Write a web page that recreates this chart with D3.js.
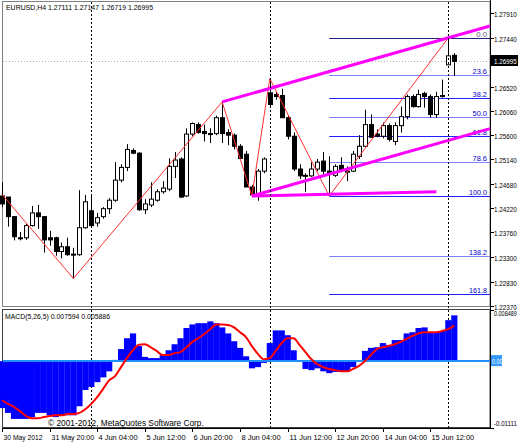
<!DOCTYPE html>
<html>
<head>
<meta charset="utf-8">
<script src="https://cdn.jsdelivr.net/npm/d3@7"></script>
<style>
  body { margin: 0; background: #fff; }
  text { font-family: "Liberation Sans", sans-serif; }
</style>
</head>
<body>
<svg id="chart"></svg>
<script>
// EURUSD H4 candles: [open, high, low, close]
const candles = [
  [1.2445,1.2471,1.2424,1.2430],[1.2443,1.2443,1.2387,1.2406],[1.2406,1.2406,1.2361,1.2368],
  [1.2366,1.2377,1.2361,1.2365],[1.2366,1.2392,1.2362,1.2389],[1.2389,1.2426,1.2387,1.2413],
  [1.2413,1.2428,1.2383,1.2406],[1.2406,1.2406,1.2338,1.2362],[1.2366,1.2379,1.2351,1.2362],
  [1.2366,1.2368,1.2332,1.2340],[1.2340,1.2357,1.2327,1.2349],[1.2349,1.2366,1.2332,1.2334],
  [1.2334,1.2347,1.2289,1.2335],[1.2334,1.2456,1.2332,1.2385],[1.2385,1.2447,1.2383,1.2434],
  [1.2417,1.2445,1.2385,1.2389],[1.2394,1.2413,1.2387,1.2404],[1.2406,1.2424,1.2402,1.2421],
  [1.2421,1.2441,1.2411,1.2437],[1.2437,1.2509,1.2434,1.2475],[1.2475,1.2505,1.2471,1.2499],
  [1.2499,1.2543,1.2492,1.2533],[1.2531,1.2535,1.2524,1.2526],[1.2526,1.2528,1.2417,1.2419],
  [1.2419,1.2439,1.2411,1.2430],[1.2428,1.2471,1.2424,1.2439],[1.2437,1.2458,1.2434,1.2453],
  [1.2453,1.2473,1.2449,1.2460],[1.2458,1.2516,1.2454,1.2501],[1.2501,1.2528,1.2479,1.2513],
  [1.2515,1.2518,1.2441,1.2443],[1.2445,1.2573,1.2443,1.2562],[1.2562,1.2584,1.2558,1.2582],
  [1.2580,1.2584,1.2563,1.2565],[1.2567,1.2580,1.2548,1.2563],[1.2563,1.2573,1.2545,1.2562],
  [1.2563,1.2597,1.2560,1.2593],[1.2593,1.2623,1.2545,1.2563],[1.2565,1.2571,1.2541,1.2560],
  [1.2560,1.2563,1.2533,1.2539],[1.2539,1.2543,1.2515,1.2516],[1.2524,1.2530,1.2462,1.2462],
  [1.2462,1.2466,1.2445,1.2447],[1.2447,1.2496,1.2436,1.2492],[1.2492,1.2518,1.2488,1.2515],
  [1.2640,1.2667,1.2614,1.2618],[1.2637,1.2642,1.2627,1.2633],[1.2635,1.2648,1.2593,1.2593],
  [1.2593,1.2597,1.2552,1.2558],[1.2558,1.2565,1.2492,1.2496],[1.2496,1.2505,1.2477,1.2483],
  [1.2483,1.2488,1.2453,1.2484],[1.2483,1.2509,1.2481,1.2496],[1.2496,1.2515,1.2492,1.2509],
  [1.2511,1.2528,1.2486,1.2492],[1.2492,1.2520,1.2445,1.2486],[1.2484,1.2505,1.2481,1.2501],
  [1.2503,1.2518,1.2490,1.2494],[1.2490,1.2501,1.2473,1.2492],[1.2492,1.2530,1.2490,1.2524],
  [1.2520,1.2560,1.2515,1.2539],[1.2539,1.2608,1.2537,1.2580],[1.2580,1.2599,1.2556,1.2556],
  [1.2562,1.2571,1.2556,1.2558],[1.2558,1.2584,1.2554,1.2578],[1.2578,1.2582,1.2548,1.2552],
  [1.2548,1.2584,1.2541,1.2578],[1.2578,1.2614,1.2565,1.2595],[1.2595,1.2637,1.2590,1.2633],
  [1.2633,1.2637,1.2612,1.2614],[1.2614,1.2646,1.2612,1.2637],[1.2639,1.2642,1.2612,1.2633],
  [1.2633,1.2637,1.2593,1.2599],[1.2599,1.2642,1.2593,1.2633],[1.2633,1.2665,1.2631,1.2635],
  [1.2693,1.2744,1.2693,1.2710],[1.2711,1.2715,1.2672,1.26995]
];

const macdHist = [
  -0.0078,-0.0086,-0.0096,-0.0096,-0.0096,-0.0093,-0.0086,-0.0086,-0.0090,-0.0093,
  -0.0091,-0.0090,-0.0090,-0.0075,-0.0048,-0.0043,-0.0035,-0.0027,-0.0017,0.0002,
  0.0020,0.0038,0.0046,0.0025,0.0007,0.0005,0.0005,0.0010,0.0018,0.0028,
  0.0038,0.0055,0.0061,0.0063,0.0063,0.0066,0.0063,0.0056,0.0046,0.0033,
  0.0022,0.0008,-0.0012,-0.0010,-0.0003,0.0030,0.0051,0.0051,0.0043,0.0018,
  0.0001,-0.0013,-0.0015,-0.0012,-0.0017,-0.0020,-0.0018,-0.0018,-0.0017,-0.0010,
  0.0001,0.0017,0.0022,0.0023,0.0030,0.0027,0.0035,0.0035,0.0046,0.0048,
  0.0055,0.0056,0.0048,0.0048,0.0050,0.0068,0.0076
];
const macdSignal = [
  -0.0065,-0.0071,-0.0076,-0.0083,-0.0091,-0.0095,-0.0095,-0.0093,-0.0091,-0.0090,
  -0.0090,-0.0088,-0.0088,-0.0086,-0.0080,-0.0071,-0.0060,-0.0046,-0.0032,-0.0025,
  -0.0010,0.0005,0.0018,0.0027,0.0028,0.0023,0.0017,0.0010,0.0010,0.0013,
  0.0015,0.0023,0.0032,0.0038,0.0045,0.0053,0.0061,0.0061,0.0060,0.0056,
  0.0048,0.0040,0.0025,0.0012,0.0003,0.0005,0.0017,0.0030,0.0038,0.0038,
  0.0027,0.0015,0.0003,-0.0005,-0.0010,-0.0013,-0.0015,-0.0017,-0.0017,-0.0013,
  -0.0008,0.0000,0.0010,0.0020,0.0023,0.0025,0.0028,0.0032,0.0037,0.0042,
  0.0046,0.0048,0.0048,0.0048,0.0050,0.0053,0.0059
];

// zigzag pivots: [bar index, price]
const zigzag = [[0,1.2448],[12,1.2289],[37,1.2623],[42,1.2445],[45,1.2667],[55,1.2445],[75,1.2744]];
const fibLevels = [0, 23.6, 38.2, 50.0, 61.8, 78.6, 100.0, 138.2, 161.8];
const fibHigh = 1.2744, fibLow = 1.2445, fibStart = 55;
const priceTicks = [1.27910,1.27440,1.26520,1.26060,1.25600,1.25140,1.24680,1.24220,1.23760,1.23300,1.22830,1.22370];
const lastPrice = 1.26995;
const timeLabels = ["30 May 2012","31 May 20:00","4 Jun 04:00","5 Jun 12:00","6 Jun 20:00",
  "8 Jun 04:00","11 Jun 12:00","12 Jun 20:00","14 Jun 04:00","15 Jun 12:00"];
const separators = [15, 45, 75];

const width = 518, height = 444;
const axisX = 490;
const svg = d3.select("#chart").attr("width", width).attr("height", height);

const x = d3.scaleLinear().domain([0, 76]).range([2, 454.2]);
const y = d3.scaleLinear().domain([1.2237, 1.2791]).range([306, 13]);
const ym = d3.scaleLinear().domain([-0.01111, 0.008489]).range([428, 310]);

// narrow text helper (terminal font is narrower than the installed ones)
function label(g, tx, ty, str, opts = {}) {
  const t = g.append("text").attr("x", tx).attr("y", ty)
    .attr("font-size", opts.size || 8).attr("fill", opts.fill || "#000")
    .attr("text-anchor", opts.anchor || "start").text(str);
  t.attr("textLength", str.length * (opts.cw || 3.5)).attr("lengthAdjust", "spacingAndGlyphs");
  return t;
}

// pane frames
svg.append("rect").attr("x", 2.5).attr("y", 1.5).attr("width", axisX - 2.5).attr("height", 305)
  .attr("fill", "none").attr("stroke", "#808080");
svg.append("rect").attr("x", 2.5).attr("y", 309.5).attr("width", axisX - 2.5).attr("height", 118)
  .attr("fill", "none").attr("stroke", "#404040");
svg.append("line").attr("x1", axisX + 0.5).attr("x2", axisX + 0.5).attr("y1", 0).attr("y2", 429)
  .attr("stroke", "#000");
svg.append("line").attr("x1", 2).attr("x2", axisX).attr("y1", 428.5).attr("y2", 428.5).attr("stroke", "#000");

const main = svg.append("g");

// current price line
main.append("line").attr("x1", 3).attr("x2", axisX).attr("y1", Math.round(y(lastPrice)) + 0.5)
  .attr("y2", Math.round(y(lastPrice)) + 0.5).attr("stroke", "#b0b0b0").attr("stroke-dasharray", "1,2");

// period separators
separators.forEach(i => {
  svg.append("line").attr("x1", Math.round(x(i)) + 0.5).attr("x2", Math.round(x(i)) + 0.5)
    .attr("y1", 2).attr("y2", 428).attr("stroke", "#000").attr("stroke-dasharray", "2,2");
});

// fibonacci levels
fibLevels.forEach((lv, k) => {
  const p = fibHigh - (fibHigh - fibLow) * lv / 100;
  const yy = Math.round(y(p)) + 0.5;
  main.append("line").attr("x1", x(fibStart)).attr("x2", axisX).attr("y1", yy).attr("y2", yy)
    .attr("stroke", lv === 0 ? "#202080" : (k % 2 ? "#7f7fff" : "#2020ff"));
  label(main, 487, yy - 2, lv.toFixed(1), { anchor: "end", fill: lv === 0 ? "#555577" : "#0000c0", cw: 3.6 });
});

// candles
const bw = 4;
candles.forEach((c, i) => {
  const [o, h, l, cl] = c;
  const cx = Math.round(x(i)) + 0.5;
  main.append("line").attr("x1", cx).attr("x2", cx).attr("y1", y(h)).attr("y2", y(l)).attr("stroke", "#000");
  const top = y(Math.max(o, cl)), bot = y(Math.min(o, cl));
  main.append("rect").attr("x", cx - bw / 2).attr("y", top).attr("width", bw)
    .attr("height", Math.max(1, bot - top))
    .attr("fill", cl >= o ? "#fff" : "#000").attr("stroke", "#000").attr("stroke-width", 1);
});

// zigzag
main.append("path").datum(zigzag)
  .attr("d", d3.line().x(d => x(d[0])).y(d => y(d[1])))
  .attr("fill", "none").attr("stroke", "#ff3030").attr("stroke-width", 1);

// channels (magenta)
const slope = (zigzag[6][1] - zigzag[2][1]) / (zigzag[6][0] - zigzag[2][0]);
const endBar = x.invert(axisX);
const chan = [
  [[37, 1.2623], [endBar, 1.2623 + slope * (endBar - 37)]],
  [[42, 1.2445], [endBar, 1.2445 + slope * (endBar - 42)]],
  [[42, 1.2445], [73, 1.2453]]
];
chan.forEach(seg => {
  main.append("path").datum(seg)
    .attr("d", d3.line().x(d => x(d[0])).y(d => y(d[1])))
    .attr("stroke", "#ff00ff").attr("stroke-width", 3).attr("fill", "none");
});

// price axis
priceTicks.forEach(p => {
  const yy = Math.round(y(p)) + 0.5;
  svg.append("line").attr("x1", axisX).attr("x2", axisX + 4).attr("y1", yy).attr("y2", yy).attr("stroke", "#000");
  label(svg, 494, yy + 3, p.toFixed(5), { cw: 3.25 });
});
const ly = Math.round(y(lastPrice));
svg.append("rect").attr("x", 491).attr("y", ly - 6).attr("width", 27).attr("height", 11).attr("fill", "#000");
label(svg, 494, ly + 3, lastPrice.toFixed(5), { fill: "#fff", cw: 3.25 });

label(svg, 6, 10, "EURUSD,H4  1.27111 1.27147 1.26719 1.26995", { cw: 3.5 });

// MACD pane
const m = svg.append("g");
macdHist.forEach((v, i) => {
  const y0 = ym(0), y1 = ym(v);
  m.append("rect").attr("x", x(i) - 3).attr("width", 6.2)
    .attr("y", Math.min(y0, y1)).attr("height", Math.abs(y1 - y0)).attr("fill", "#0000ff");
});
m.append("line").attr("x1", 3).attr("x2", axisX).attr("y1", ym(0)).attr("y2", ym(0))
  .attr("stroke", "#1e90ff").attr("stroke-width", 2);
m.append("path").datum(macdSignal)
  .attr("d", d3.line().curve(d3.curveMonotoneX).x((d, i) => x(i)).y(d => ym(d)))
  .attr("fill", "none").attr("stroke", "#ff0000").attr("stroke-width", 2);

label(svg, 5, 319, "MACD(5,26,5) 0.007594 0.005886", { cw: 3.5 });
label(svg, 48, 426, "© 2001-2012, MetaQuotes Software Corp.", { size: 9, cw: 4.1 });

[[0.008489, "0.008489", 316], [-0.01111, "-0.01111", 426]].forEach(([v, t, yy]) => {
  svg.append("line").attr("x1", axisX).attr("x2", axisX + 4).attr("y1", Math.round(ym(v)) + 0.5)
    .attr("y2", Math.round(ym(v)) + 0.5).attr("stroke", "#000");
  label(svg, 494, yy, t, { cw: 2.85, size: 7.5 });
});
svg.append("rect").attr("x", 491).attr("y", ym(0) - 6).attr("width", 11).attr("height", 11).attr("fill", "#3399ff");
label(svg, 492, ym(0) + 3, "0.00", { fill: "#fff", cw: 2.6 });

// time axis
timeLabels.forEach((t, k) => {
  const xx = Math.round(x(k * 8)) + 0.5;
  svg.append("line").attr("x1", xx).attr("x2", xx).attr("y1", 428).attr("y2", 432).attr("stroke", "#000");
  label(svg, xx + 1, 440, t, { cw: 3.55 });
});
</script>
</body>
</html>
